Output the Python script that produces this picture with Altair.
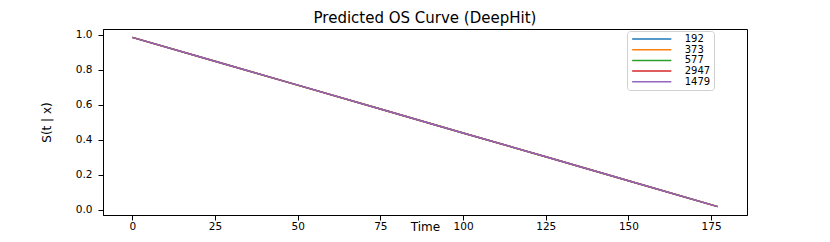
import altair as alt
import pandas as pd

# Values
times = [0, 25, 50, 75, 100, 125, 150, 177]
s_192 = [0.985, 0.848, 0.712, 0.575, 0.438, 0.302, 0.165, 0.017]
s_373 = [0.985, 0.848, 0.712, 0.575, 0.438, 0.302, 0.165, 0.017]
s_577 = [0.985, 0.848, 0.712, 0.575, 0.438, 0.302, 0.165, 0.017]
s_2947 = [0.985, 0.848, 0.712, 0.575, 0.438, 0.302, 0.165, 0.017]
s_1479 = [0.985, 0.848, 0.712, 0.575, 0.438, 0.302, 0.165, 0.017]
series_names = ["192", "373", "577", "2947", "1479"]
series_colors = ["#1f77b4", "#ff7f0e", "#2ca02c", "#d62728", "#9467bd"]
x_ticks = [0, 25, 50, 75, 100, 125, 150, 175]
y_ticks = [0.0, 0.2, 0.4, 0.6, 0.8, 1.0]

rows = []
for order, (name, vals) in enumerate(zip(series_names, [s_192, s_373, s_577, s_2947, s_1479])):
    for t, v in zip(times, vals):
        rows.append({"id": name, "order": order, "time": t, "surv": v})
df = pd.DataFrame(rows)

FONT = "DejaVu Sans"

chart = alt.Chart(df).mark_line(strokeWidth=1.5).encode(
    x=alt.X("time:Q", scale=alt.Scale(domain=[-8.85, 185.85], nice=False, zero=False),
            axis=alt.Axis(title="Time", values=x_ticks, format="d")),
    y=alt.Y("surv:Q", scale=alt.Scale(domain=[-0.031, 1.033], nice=False, zero=False),
            axis=alt.Axis(title="S(t | x)", values=y_ticks, format=".1f")),
    color=alt.Color("id:N", sort=series_names,
                    scale=alt.Scale(domain=series_names, range=series_colors),
                    legend=alt.Legend(title=None, orient="none", legendX=524, legendY=2,
                                      symbolType="M-4.9,0H4.9", symbolSize=64,
                                      symbolStrokeWidth=1.5, symbolOffset=16.75,
                                      labelOffset=28, labelFontSize=10, labelFont=FONT,
                                      labelColor="black", padding=3, rowPadding=0.7,
                                      fillColor="white", strokeColor="#d0d0d0",
                                      cornerRadius=3)),
    order=alt.Order("order:Q"),
    detail="id:N",
).properties(
    width=644,
    height=186,
    title=alt.TitleParams("Predicted OS Curve (DeepHit)", fontSize=15, font=FONT,
                          fontWeight="normal", color="black", anchor="middle", offset=3),
    padding={"left": 95, "top": 21, "right": 75, "bottom": 19},
    autosize=alt.AutoSizeParams(type="none"),
).configure_view(
    stroke="black", strokeWidth=1
).configure_axis(
    grid=False, domainColor="black", tickColor="black", labelColor="black",
    titleColor="black", labelFont=FONT, titleFont=FONT, labelFontSize=10.5,
    titleFontSize=12, titleFontWeight="normal", tickSize=5,
    domainWidth=1, tickWidth=1
).configure_axisX(
    labelPadding=1, titleY=15, titleBaseline="alphabetic"
).configure_axisY(
    labelPadding=6, titlePadding=22
)

chart.save("out.html", embed_options={"renderer": "svg", "actions": False})
